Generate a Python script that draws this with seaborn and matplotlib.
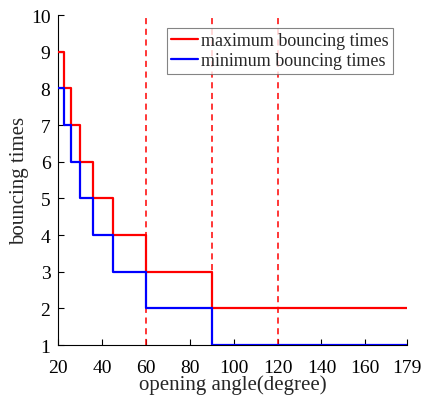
import pandas as pd
import matplotlib
matplotlib.use("Agg")
import matplotlib.pyplot as plt
import seaborn as sns

# step breakpoints (opening angle, degree) and bouncing counts
angles = [20, 22.5, 25.7, 30, 36, 45, 60, 90, 179]
max_times = [9, 8, 7, 6, 5, 4, 3, 2, 2]
min_times = [8, 7, 6, 5, 4, 3, 2, 1, 1]
guide_angles = [60, 90, 120]
x_ticks = [20, 40, 60, 80, 100, 120, 140, 160, 179]
y_ticks = [1, 2, 3, 4, 5, 6, 7, 8, 9, 10]

sns.set_style("ticks")
plt.rcParams['font.family'] = ['Liberation Serif', 'DejaVu Serif']

df = pd.DataFrame({'angle': angles, 'max': max_times, 'min': min_times})

fig = plt.figure(figsize=(4.24, 4.02), dpi=100)
ax = fig.add_axes([0.137, 0.139, 0.823, 0.821])

for a in guide_angles:
    ax.axvline(a, color='red', linestyle=(0, (4, 3)), linewidth=1.1, zorder=1)

sns.lineplot(data=df, x='angle', y='max', ax=ax, color='red', linewidth=1.6,
             drawstyle='steps-post', label='maximum bouncing times', zorder=3)
sns.lineplot(data=df, x='angle', y='min', ax=ax, color='blue', linewidth=1.6,
             drawstyle='steps-post', label='minimum bouncing times', zorder=3)

ax.set_xlim(20, 179)
ax.set_ylim(1, 10)
ax.set_xticks(x_ticks)
ax.set_yticks(y_ticks)
ax.tick_params(direction='in', length=4, width=0.8, labelsize=14, colors='black')
ax.tick_params(axis='x', pad=10)
ax.tick_params(axis='y', pad=5.5)
for s in ['top', 'right']:
    ax.spines[s].set_visible(False)
for s in ['left', 'bottom']:
    ax.spines[s].set_linewidth(0.8)
    ax.spines[s].set_color('black')

ax.set_xlabel('opening angle(degree)', fontsize=15, labelpad=-1)
ax.set_ylabel('bouncing times', fontsize=15, labelpad=1)

leg = ax.legend(loc='upper right', bbox_to_anchor=(0.96, 0.961), fontsize=13,
                frameon=True, fancybox=False, handlelength=1.5,
                handletextpad=0.15, borderpad=0.25, labelspacing=0.15,
                borderaxespad=0)
leg.get_frame().set_edgecolor('#666666')
leg.get_frame().set_linewidth(0.8)

fig.savefig('out.png', dpi=100)
